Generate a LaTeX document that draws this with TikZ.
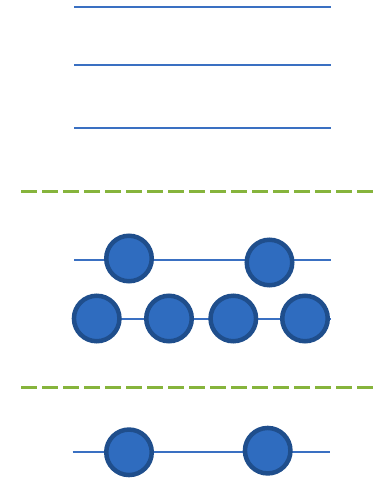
\documentclass[tikz,border=0pt]{standalone}
\usepackage{tikz}
\usetikzlibrary{positioning,calc}
\definecolor{railblue}{HTML}{3A70C2}
\definecolor{beadfill}{HTML}{2F6CBF}
\definecolor{beadedge}{HTML}{1F4E8C}
\definecolor{cutgreen}{HTML}{86B43C}
\tikzset{
  rail/.style={draw=railblue,line width=2pt},
  cutline/.style={draw=cutgreen,line width=2.4pt,dash pattern=on 15.5pt off 5.5pt},
  bead/.style={circle,draw=beadedge,fill=beadfill,line width=4.5pt,minimum size=45.5pt,inner sep=0pt},
}
\begin{document}
\begin{tikzpicture}[x=1pt,y=-1pt]
  \useasboundingbox (0,0) rectangle (380,480);
  % empty rails
  \foreach \y [count=\i] in {7,65,128} {
    \coordinate (l\i) at (74,\y);
    \coordinate (r\i) at (331,\y);
    \draw[rail] (l\i) -- (r\i);
  }
  % cut lines
  \coordinate (cutAl) at (21,191.5);
  \coordinate (cutAr) at (374,191.5);
  \coordinate (cutBl) at (21,387.5);
  \coordinate (cutBr) at (374,387.5);
  \draw[cutline] (cutAl) -- (cutAr);
  \draw[cutline] (cutBl) -- (cutBr);
  % rail with two beads
  \coordinate (l4) at (74,260);
  \coordinate (r4) at (331,260);
  \draw[rail] (l4) -- (r4);
  \node[bead] (a1) at (129,258.5) {};
  \node[bead] (a2) at (269.5,262.5) {};
  % rail with four beads
  \coordinate (l5) at (74,318.5);
  \coordinate (r5) at (331,318.5);
  \draw[rail] (l5) -- (r5);
  \foreach \x [count=\i] in {96.7,169,233.3,305}
    \node[bead] (b\i) at (\x,318.5) {};
  % bottom rail
  \coordinate (l6) at (72.5,452.3);
  \coordinate (r6) at (329.5,452.3);
  \draw[rail] (l6) -- (r6);
  \node[bead] (c1) at (129,452.3) {};
  \node[bead] (c2) at (267.7,450.7) {};
\end{tikzpicture}
\end{document}
